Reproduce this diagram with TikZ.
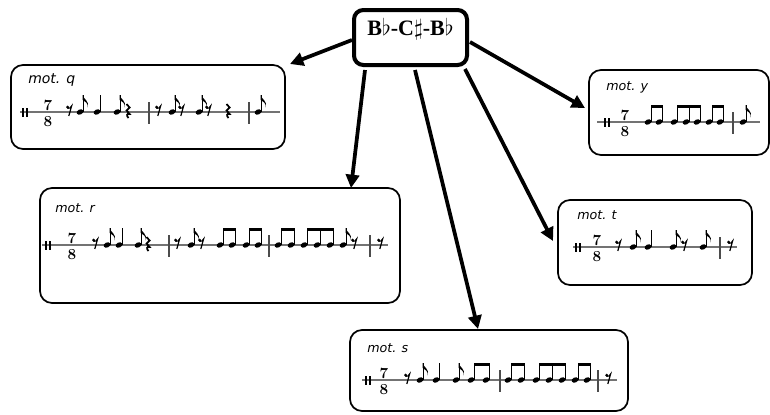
\documentclass[tikz,border=0pt]{standalone}
\usepackage{fontspec}
\newfontfamily\labfont{DejaVu Sans}
\newfontfamily\titlefont{Liberation Serif}
\usetikzlibrary{arrows.meta,fit,calc}
\tikzset{
 mbox/.style={draw, line width=1.3pt, rounded corners=9pt, inner sep=0pt, outer sep=0pt},
 topbox/.style={draw, line width=3pt, rounded corners=7pt, inner sep=0pt, outer sep=0pt},
 arr/.style={line width=2.8pt, -{Triangle[length=10pt,width=10pt]}},
 staffl/.style={draw=black!55, line width=0.8pt},
 stemline/.style={line width=0.75pt},
 barl/.style={draw=black!70, line width=0.8pt},
 restl/.style={line width=0.9pt},
 qrestl/.style={line width=1.3pt, line join=miter},
 tsig/.style={font=\fontsize{11.5}{12}\selectfont\bfseries, inner sep=0pt, align=center},
 lab/.style={font=\labfont\itshape\fontsize{9.5}{9.5}\selectfont, anchor=base west, inner sep=0pt},
}
% music glyphs (coordinates in px, staff line y)
\newcommand\musHead[2]{\fill[rotate around={25:(#1,#2)}] (#1,#2) ellipse (2.65pt and 1.9pt);}
\newcommand\musQN[2]{\musHead{#1}{#2}\draw[stemline] (#1+3.1,#2-0.5) -- (#1+3.1,#2-17);}
\newcommand\musEN[2]{\musQN{#1}{#2}\fill (#1+2.7,#2-17) .. controls (#1+3.7,#2-12.5) and (#1+9.7,#2-11) .. (#1+7.7,#2-4.5) .. controls (#1+8.2,#2-9) and (#1+5.2,#2-10.5) .. (#1+2.7,#2-12) -- cycle;}
\newcommand\musBeam[3]{\fill (#2+2.7,#1-17.3) rectangle (#3+3.5,#1-14.3);}
\newcommand\musER[2]{\fill (#1-1.3,#2-4.8) circle (1.25pt);\draw[restl] (#1-1.3,#2-3.8) .. controls (#1+0.3,#2-3.2) and (#1+1.8,#2-4) .. (#1+2.6,#2-6) -- (#1-0.2,#2+4);}
\newcommand\musQR[2]{\draw[qrestl] (#1-1.5,#2-8) -- (#1+1.6,#2-4.5) -- (#1-1.4,#2-1.5) -- (#1+1.6,#2+2) .. controls (#1-1.6,#2+1) and (#1-1.6,#2+4) .. (#1+0.5,#2+6);}
\newcommand\musBar[2]{\draw[barl] (#1,#2-10) -- (#1,#2+12);}
\newcommand\musClef[2]{\fill (#1-3.2,#2-4.5) rectangle (#1-0.9,#2+4.5);\fill (#1+0.9,#2-4.5) rectangle (#1+3.2,#2+4.5);}
\newcommand\musTS[2]{\node[tsig] at (#1,#2+1.5) {7\\8};}
\newcommand\musStaff[3]{\draw[staffl] (#1,#3) -- (#2,#3);}
\begin{document}
\begin{tikzpicture}[x=0.75pt,y=-0.75pt]
\useasboundingbox (0,0) rectangle (770,414);
% boxes
\node[topbox, fit={(354,10) (467,65)}] (top) {\titlefont\fontsize{16.5}{16.5}\selectfont\bfseries B$\flat$-C$\sharp$-B$\flat$};
\node[mbox, fit={(11,65) (285,149)}] (mq) {};
\node[mbox, fit={(40,188) (400,303)}] (mr) {};
\node[mbox, fit={(589,70) (769,155)}] (my) {};
\node[mbox, fit={(558,200) (752,285)}] (mt) {};
\node[mbox, fit={(350,330) (628,411)}] (ms) {};
% labels
\node[lab, font=\labfont\itshape\fontsize{10.5}{10.5}\selectfont] (lq) at (28,83) {mot. q};
\node[lab] (lr) at (55,212) {mot. r};
\node[lab] (ly) at (606,90) {mot. y};
\node[lab] (lt) at (577,219) {mot. t};
\node[lab] (ls) at (367,352) {mot. s};
% arrows
\draw[arr] ($(top.west)+(-2,2.5)$) -- ($(mq.north east)+(5,-1)$);
\draw[arr] ($(top.south west)+(11,5)$) -- ($(mr.north east)+(-49,0)$);
\draw[arr] ($(top.south)+(4.5,5)$) -- ($(ms.north west)+(128,-1)$);
\draw[arr] ($(top.south east)+(-2,4)$) -- ($(mt.west)+(-5,-1.5)$);
\draw[arr] ($(top.east)+(3,4.5)$) -- ($(my.west)+(-4,-4.5)$);
% ---- mot q
\musStaff{20}{280}{112}
\musClef{25}{112}\musTS{48}{112}
\musER{69}{112}\musEN{80}{112}\musQN{97}{112}\musEN{117}{112}\musQR{128}{112}
\musBar{149}{112}
\musER{158}{112}\musEN{172}{112}\musER{181}{112}\musEN{199}{112}\musER{208}{112}\musQR{228}{112}
\musBar{249}{112}
\musEN{258}{112}
% ---- mot r
\musStaff{42}{388}{245}
\musClef{48}{245}\musTS{72}{245}
\musER{95}{245}\musEN{107}{245}\musQN{119}{245}\musEN{138}{245}\musQR{148}{245}
\musBar{169}{245}
\musER{177}{245}\musEN{191}{245}\musER{201}{245}
\musQN{220}{245}\musQN{232}{245}\musBeam{245}{220}{232}
\musQN{246}{245}\musQN{258}{245}\musBeam{245}{246}{258}
\musBar{269}{245}
\musQN{278}{245}\musQN{291}{245}\musBeam{245}{278}{291}
\musQN{304}{245}\musQN{317}{245}\musQN{330}{245}\musBeam{245}{304}{330}
\musEN{343}{245}\musER{354}{245}
\musBar{370}{245}
\musER{380}{245}
% ---- mot y
\musStaff{597}{760}{122}
\musClef{607}{122}\musTS{625}{122}
\musQN{648}{122}\musQN{659}{122}\musBeam{122}{648}{659}
\musQN{674}{122}\musQN{686}{122}\musQN{697}{122}\musBeam{122}{674}{697}
\musQN{709}{122}\musQN{720}{122}\musBeam{122}{709}{720}
\musBar{733}{122}
\musEN{743}{122}
% ---- mot t
\musStaff{573}{737}{247}
\musClef{578}{247}\musTS{597}{247}
\musER{618}{247}\musEN{633}{247}\musQN{648}{247}\musEN{673}{247}\musER{684}{247}\musEN{703}{247}
\musBar{720}{247}
\musER{730}{247}
% ---- mot s
\musStaff{362}{617}{380}
\musClef{368}{380}\musTS{384}{380}
\musER{407}{380}\musEN{420}{380}\musQN{436}{380}\musEN{456}{380}
\musQN{471}{380}\musQN{486}{380}\musBeam{380}{471}{486}
\musBar{500}{380}
\musQN{508}{380}\musQN{521}{380}\musBeam{380}{508}{521}
\musQN{536}{380}\musQN{549}{380}\musQN{562}{380}\musBeam{380}{536}{562}
\musQN{575}{380}\musQN{587}{380}\musBeam{380}{575}{587}
\musBar{598}{380}
\musER{608}{380}
\end{tikzpicture}
\end{document}
